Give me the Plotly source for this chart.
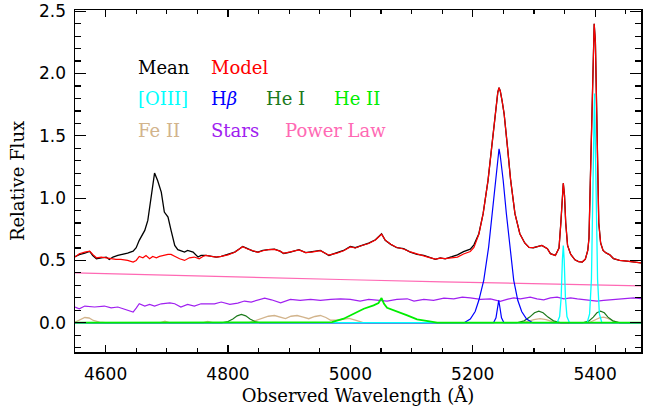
import plotly.graph_objects as go

# ---------------- data ----------------
mean_wl = [4550, 4557, 4566, 4574, 4579, 4585, 4593, 4601, 4606, 4612, 4620, 4628, 4636, 4645, 4650, 4655,
           4664, 4669, 4675, 4680, 4685, 4691, 4696, 4702, 4707, 4713, 4718, 4723, 4729, 4734, 4743, 4751,
           4756, 4764, 4773, 4781, 4789, 4800, 4811, 4819, 4824, 4832, 4841, 4849, 4857, 4866, 4876, 4885,
           4891, 4902, 4916, 4927, 4937, 4951, 4965, 4978, 4989, 5000, 5008, 5019, 5030, 5041, 5051, 5057,
           5066, 5076, 5087, 5098, 5109, 5120, 5128, 5139, 5147, 5155, 5166, 5175, 5185, 5196, 5202, 5210,
           5217, 5225, 5231, 5236.6, 5241, 5243, 5245, 5248, 5251.3, 5256.8, 5262, 5269, 5277, 5285, 5292, 5299,
           5305, 5313, 5322, 5327, 5335, 5341, 5344, 5346, 5348, 5350, 5352, 5355, 5360,
           5367, 5373, 5379, 5384, 5388, 5390, 5392, 5394.5, 5396.5, 5398.5, 5400.5, 5402, 5404, 5406, 5409,
           5413, 5418, 5424, 5430, 5440, 5452, 5463, 5475]
mean_flux = [0.530, 0.546, 0.559, 0.572, 0.540, 0.513, 0.521, 0.527, 0.508, 0.527, 0.540, 0.548, 0.559, 0.575,
             0.602, 0.661, 0.741, 0.821, 1.008, 1.201, 1.142, 1.048, 0.888, 0.848, 0.741, 0.620, 0.586, 0.575,
             0.567, 0.580, 0.567, 0.527, 0.540, 0.540, 0.532, 0.527, 0.532, 0.548, 0.567, 0.594, 0.612, 0.594,
             0.575, 0.567, 0.580, 0.586, 0.590, 0.575, 0.556, 0.567, 0.586, 0.562, 0.567, 0.580, 0.540, 0.559,
             0.580, 0.612, 0.602, 0.620, 0.639, 0.666, 0.714, 0.661, 0.629, 0.602, 0.594, 0.567, 0.548, 0.540,
             0.527, 0.508, 0.521, 0.513, 0.530, 0.545, 0.570, 0.590, 0.625, 0.714,
             0.875, 1.142, 1.409, 1.677, 1.850, 1.886, 1.860, 1.780, 1.677, 1.409, 1.142, 0.875, 0.714, 0.640,
             0.605, 0.602, 0.612, 0.620, 0.594, 0.554, 0.540, 0.600, 0.800, 1.000, 1.120, 1.020, 0.800, 0.620,
             0.550, 0.505, 0.490, 0.487, 0.510, 0.580, 0.680, 1.100, 1.600, 2.100, 2.400, 2.250, 1.800, 1.200,
             0.800, 0.640, 0.580, 0.560, 0.545, 0.515, 0.500, 0.495, 0.487, 0.480]

model_wl = [4550, 4557, 4566, 4574, 4579, 4585, 4593, 4601, 4609, 4617, 4625, 4636, 4645, 4650, 4655, 4661,
            4666, 4672, 4677, 4683, 4688, 4694, 4702, 4707, 4713, 4721, 4729, 4737, 4745, 4753, 4759, 4764,
            4773, 4781, 4789, 4800, 4811, 4819, 4824, 4832, 4841, 4849, 4857, 4866, 4876, 4885, 4891, 4902,
            4916, 4927, 4937, 4951, 4965, 4978, 4989, 5000, 5008, 5019, 5030, 5041, 5051, 5057, 5066, 5076,
            5087, 5098, 5109, 5120, 5128, 5139, 5147, 5155, 5166, 5175, 5185, 5196, 5202, 5210,
            5217, 5225, 5231, 5236.6, 5241, 5243, 5245, 5248, 5251.3, 5256.8, 5262, 5269, 5277, 5285, 5292, 5299,
            5305, 5313, 5322, 5327, 5335, 5341, 5344, 5346, 5348, 5350, 5352, 5355, 5360, 5367, 5373,
            5379, 5384, 5388, 5390, 5392, 5394.5, 5396.5, 5398.5, 5400.5, 5402, 5404, 5406, 5409, 5413, 5418,
            5424, 5430, 5440, 5452, 5463, 5475]
model_flux = [0.527, 0.554, 0.567, 0.575, 0.548, 0.521, 0.527, 0.519, 0.513, 0.508, 0.508, 0.500, 0.487, 0.500,
              0.532, 0.521, 0.540, 0.513, 0.532, 0.521, 0.532, 0.540, 0.548, 0.548, 0.532, 0.513, 0.500, 0.521,
              0.527, 0.513, 0.532, 0.540, 0.532, 0.527, 0.532, 0.545, 0.565, 0.592, 0.610, 0.592, 0.575, 0.565,
              0.578, 0.586, 0.588, 0.575, 0.557, 0.568, 0.585, 0.563, 0.566, 0.578, 0.542, 0.558, 0.578, 0.608,
              0.600, 0.620, 0.636, 0.664, 0.710, 0.663, 0.630, 0.604, 0.592, 0.568, 0.550, 0.538, 0.525, 0.510,
              0.518, 0.514, 0.519, 0.527, 0.552, 0.572, 0.605, 0.710,
              0.875, 1.142, 1.409, 1.677, 1.850, 1.886, 1.860, 1.780, 1.677, 1.409, 1.142, 0.875, 0.714, 0.640,
              0.605, 0.602, 0.612, 0.620, 0.594, 0.554, 0.540, 0.600, 0.800, 1.000, 1.120, 1.020, 0.800, 0.620,
              0.550, 0.505, 0.490, 0.487, 0.510, 0.580, 0.680, 1.100, 1.600, 2.100, 2.400, 2.250, 1.800, 1.200,
              0.800, 0.640, 0.580, 0.560, 0.545, 0.515, 0.500, 0.495, 0.487, 0.480]

oiii_wl = [4550, 5338, 5342, 5344.5, 5346.5, 5348, 5349.5, 5351.5, 5354, 5358, 5387, 5391, 5394, 5396.5, 5399,
           5401.5, 5404, 5407, 5411, 5475]
oiii_flux = [0.0, 0.0, 0.05, 0.20, 0.50, 0.62, 0.50, 0.20, 0.05, 0.0, 0.0, 0.07, 0.35, 1.10, 1.84, 1.10, 0.35,
             0.07, 0.0, 0.0]

hb_broad_wl = [4550, 5186, 5196, 5204, 5210, 5218, 5226, 5232, 5237.5, 5241, 5243, 5245, 5249.8, 5255, 5260.6,
               5267, 5273.6, 5280, 5288, 5298, 5475]
hb_broad_flux = [0.0, 0.0, 0.03, 0.09, 0.18, 0.34, 0.607, 0.875, 1.142, 1.33, 1.396, 1.34, 1.142, 0.875, 0.607,
                 0.34, 0.18, 0.09, 0.03, 0.0, 0.0]

hb_narrow_wl = [4550, 5234, 5238, 5240.5, 5242.5, 5244.5, 5247, 5251, 5475]
hb_narrow_flux = [0.0, 0.0, 0.04, 0.12, 0.18, 0.12, 0.04, 0.0, 0.0]

hei_wl = [4550, 4790, 4800, 4808, 4815, 4822, 4829, 4836, 4844, 4852, 5272, 5284, 5293, 5301, 5308, 5315, 5323,
          5332, 5344, 5380, 5390, 5397, 5403, 5409, 5415, 5421, 5429, 5440, 5475]
hei_flux = [0.0, 0.0, 0.01, 0.03, 0.055, 0.067, 0.055, 0.03, 0.01, 0.0, 0.0, 0.015, 0.045, 0.08, 0.093, 0.08,
            0.045, 0.015, 0.0, 0.0, 0.015, 0.045, 0.08, 0.093, 0.08, 0.045, 0.015, 0.0, 0.0]

heii_wl = [4550, 4970, 4989, 5006, 5022, 5038, 5046, 5051, 5055, 5060, 5076, 5093, 5109, 5125, 5142, 5475]
heii_flux = [0.0, 0.005, 0.032, 0.072, 0.112, 0.139, 0.158, 0.198, 0.152, 0.120, 0.093, 0.059, 0.027, 0.011,
             0.0, 0.0]

feii_wl = [4550, 4558, 4566, 4573, 4580, 4590, 4600, 4690, 4697, 4704, 4760, 4767, 4775, 4835, 4845, 4855, 4866,
           4876, 4886, 4894, 4903, 4913, 4923, 4932, 4942, 4951, 4960, 4968, 4978, 4988, 4998, 5008, 5020, 5030,
           5280, 5290, 5300, 5310, 5320, 5330, 5340, 5390, 5400, 5408, 5414, 5421, 5430, 5440, 5475]
feii_flux = [0.005, 0.025, 0.042, 0.038, 0.018, 0.004, 0.0, 0.0, 0.012, 0.0, 0.0, 0.01, 0.0, 0.0, 0.015, 0.035,
             0.052, 0.058, 0.042, 0.033, 0.052, 0.058, 0.045, 0.032, 0.050, 0.058, 0.042, 0.020, 0.020, 0.030,
             0.035, 0.020, 0.003, 0.0, 0.0, 0.010, 0.025, 0.033, 0.025, 0.008, 0.0, 0.0, 0.020, 0.040, 0.045,
             0.035, 0.012, 0.0, 0.0]

stars_wl = [4550, 4557, 4566, 4582, 4598, 4609, 4620, 4631, 4645, 4650, 4655, 4664, 4672, 4680, 4691, 4705,
            4713, 4723, 4734, 4745, 4756, 4767, 4778, 4789, 4803, 4816, 4827, 4838, 4849, 4860, 4871, 4886,
            4902, 4918, 4935, 4951, 4968, 4984, 5000, 5016, 5030, 5044, 5060, 5076, 5093, 5104, 5120, 5136,
            5153, 5169, 5183, 5196, 5213, 5229, 5245, 5256, 5267, 5278, 5294, 5305, 5316, 5327, 5338, 5349,
            5360, 5371, 5382, 5392, 5403, 5414, 5431, 5447, 5463, 5475]
stars_flux = [0.126, 0.112, 0.134, 0.126, 0.134, 0.120, 0.126, 0.107, 0.085, 0.117, 0.152, 0.134, 0.147, 0.134,
              0.152, 0.160, 0.152, 0.126, 0.147, 0.134, 0.152, 0.152, 0.152, 0.166, 0.147, 0.158, 0.174, 0.166,
              0.179, 0.198, 0.184, 0.160, 0.187, 0.179, 0.187, 0.179, 0.187, 0.192, 0.187, 0.174, 0.187, 0.179,
              0.174, 0.187, 0.192, 0.174, 0.187, 0.179, 0.198, 0.192, 0.206, 0.200, 0.187, 0.192, 0.171, 0.187,
              0.200, 0.192, 0.206, 0.192, 0.184, 0.200, 0.206, 0.192, 0.200, 0.192, 0.184, 0.179, 0.174, 0.179,
              0.187, 0.192, 0.200, 0.194]

powlaw_wl = [4550, 4700, 4850, 5000, 5150, 5300, 5475]
powlaw_flux = [0.400, 0.380, 0.363, 0.345, 0.328, 0.313, 0.296]

legend_labels = [["Mean", "Model"],
                 ["[OIII]", "H<i>β</i>", "He I", "He II"],
                 ["Fe II", "Stars", "Power Law"]]
legend_colors = [["#000000", "#ff0000"],
                 ["#00ffff", "#0000ff", "#1c7a1c", "#00ee00"],
                 ["#d2b48c", "#a020f0", "#ff69b4"]]

x_range = [4550, 5475]
y_range = [-0.235, 2.51]

# ---------------- figure ----------------
C_MEAN, C_MODEL = "#000000", "#ff0000"
C_OIII, C_HB, C_HEI, C_HEII = "#00ffff", "#0000ff", "#1c7a1c", "#00ee00"
C_FEII, C_STARS, C_PL = "#d2b48c", "#a020f0", "#ff69b4"

fig = go.Figure()
def add(x, y, color, width=1.2, name=None):
    fig.add_trace(go.Scatter(x=x, y=y, mode="lines", line=dict(color=color, width=width),
                             showlegend=False, name=name, hoverinfo="skip"))

add(mean_wl, mean_flux, C_MEAN, 1.3, "Mean")
add(powlaw_wl, powlaw_flux, C_PL, 1.2, "Power Law")
add(stars_wl, stars_flux, C_STARS, 1.2, "Stars")
add(feii_wl, feii_flux, C_FEII, 1.3, "Fe II")
add(hei_wl, hei_flux, C_HEI, 1.2, "He I")
add(hb_broad_wl, hb_broad_flux, C_HB, 1.2, "Hβ")
add(hb_narrow_wl, hb_narrow_flux, C_HB, 1.2, "Hβ narrow")
add(oiii_wl, oiii_flux, C_OIII, 1.3, "[OIII]")
add(heii_wl, heii_flux, C_HEII, 1.8, "He II")
add(model_wl, model_flux, C_MODEL, 1.2, "Model")

# legend text (positions in paper coords)
col_x = [[0.1086, 0.2375], [0.1086, 0.2375, 0.3347, 0.4548], [0.1086, 0.2375, 0.3682]]
row_y = [0.832, 0.741, 0.648]
for r, labels in enumerate(legend_labels):
    for c, lab in enumerate(labels):
        fig.add_annotation(x=col_x[r][c], y=row_y[r], xref="paper", yref="paper", text=lab,
                           showarrow=False, xanchor="left", yanchor="middle",
                           font=dict(family="DejaVu Serif", size=18, color=legend_colors[r][c]))

axis_common = dict(showline=True, linecolor="black", linewidth=1.5, mirror="ticks", ticks="inside",
                   tickcolor="black", tickwidth=1.2, showgrid=False, zeroline=False,
                   tickfont=dict(family="DejaVu Sans", size=17, color="black"))

fig.update_xaxes(range=x_range, tick0=0, dtick=200, ticklen=7, ticklabelstandoff=6,
                 minor=dict(dtick=50, ticks="inside", ticklen=4, tickcolor="black", tickwidth=1.2),
                 title=dict(text="Observed Wavelength (Å)", standoff=6,
                            font=dict(family="DejaVu Serif", size=18, color="black")),
                 **axis_common)
fig.update_yaxes(range=y_range, tick0=0, dtick=0.5, tickformat=".1f", ticklen=11, ticklabelstandoff=4,
                 minor=dict(dtick=0.1, ticks="inside", ticklen=6, tickcolor="black", tickwidth=1.2),
                 title=dict(text="Relative Flux", standoff=10,
                            font=dict(family="DejaVu Serif", size=18, color="black")),
                 **axis_common)

fig.update_layout(width=650, height=406, margin=dict(l=74.5, r=9.3, t=9.5, b=54.3, autoexpand=False),
                  paper_bgcolor="white", plot_bgcolor="white")

fig.write_html("out.html", config={"displayModeBar": False, "staticPlot": True},
               post_script="document.body.style.margin='0';document.body.style.padding='0';"
                           "document.body.style.overflow='hidden';")
